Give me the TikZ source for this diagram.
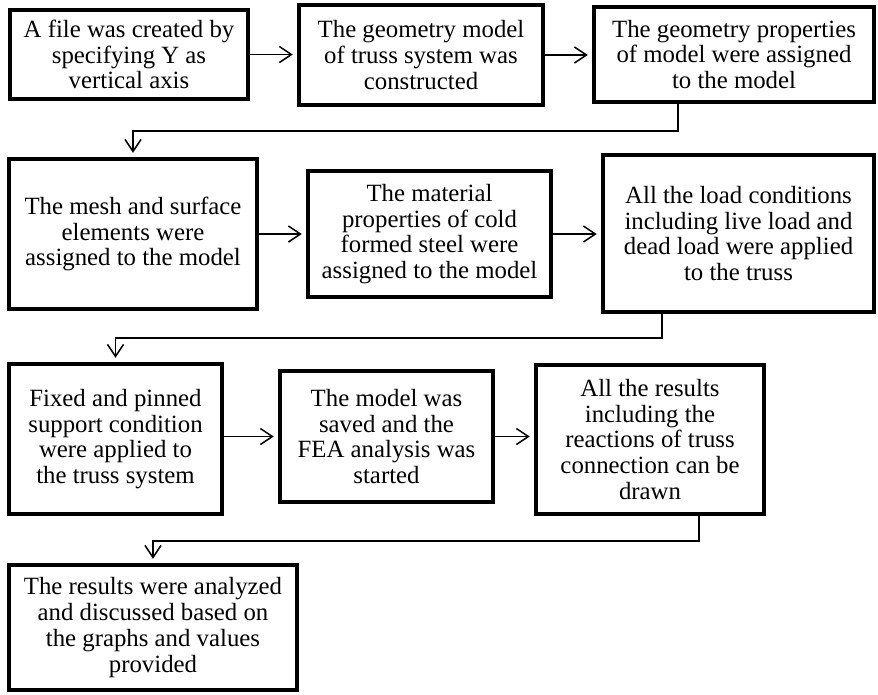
\documentclass[tikz,border=0pt]{standalone}
\usepackage{fontspec}
\setmainfont{Liberation Serif}
\usetikzlibrary{arrows.meta,calc}
\begin{document}
\begin{tikzpicture}[x=1pt,y=-1pt,
  stepbox/.style={draw, line width=4.5pt, align=center, inner sep=0pt,
    font=\fontsize{24.8}{25.7}\selectfont},
  conn/.style={line width=1.5pt, -{Straight Barb[length=12pt,width=16pt]}, shorten >=4pt}]
\fill[white] (0,0) rectangle (878,694);
\useasboundingbox (0,0) rectangle (878,694);

\node[stepbox, minimum width=238pt, minimum height=89pt] (b1) at (129,54.5)
  {A file was created by\\specifying Y as\\vertical axis};
\node[stepbox, minimum width=244pt, minimum height=100pt] (b2) at (421,55)
  {The geometry model\\of truss system was\\constructed};
\node[stepbox, minimum width=280pt, minimum height=95pt] (b3) at (734,54.5)
  {The geometry properties\\of model were assigned\\to the model};

\node[stepbox, minimum width=248pt, minimum height=150pt] (b4) at (133,234)
  {The mesh and surface\\elements were\\assigned to the model};
\node[stepbox, minimum width=243pt, minimum height=126pt] (b5) at (429.5,234)
  {The material\\properties of cold\\formed steel were\\assigned to the model};
\node[stepbox, minimum width=271pt, minimum height=157pt] (b6) at (738.5,233.5)
  {All the load conditions\\including live load and\\dead load were applied\\to the truss};

\node[stepbox, minimum width=213pt, minimum height=150pt] (b7) at (115.5,439)
  {Fixed and pinned\\support condition\\were applied to\\the truss system};
\node[stepbox, minimum width=213pt, minimum height=131pt] (b8) at (386.5,436.5)
  {The model was\\saved and the\\FEA analysis was\\started};
\node[stepbox, minimum width=228pt, minimum height=149pt] (b9) at (650,439.5)
  {All the results\\including the\\reactions of truss\\connection can be\\drawn};

\node[stepbox, minimum width=288pt, minimum height=125pt] (b10) at (153,627.5)
  {The results were analyzed\\and discussed based on\\the graphs and values\\provided};

\draw[conn] (b1.east) -- (b2.west |- b1.east);
\draw[conn] (b2.east) -- (b3.west |- b2.east);
\coordinate (k1) at (678,131);
\draw[conn] (k1 |- b3.south) -- (k1) -| (b4.north);
\draw[conn] (b4.east) -- (b5.west |- b4.east);
\draw[conn] (b5.east) -- (b6.west |- b5.east);
\coordinate (k2) at (662,338);
\draw[conn] (k2 |- b6.south) -- (k2) -| (b7.north);
\draw[conn] (b7.east |- b8.west) -- (b8.west);
\draw[conn] (b8.east) -- (b9.west |- b8.east);
\coordinate (k3) at (699,541);
\draw[conn] (k3 |- b9.south) -- (k3) -| (b10.north);
\end{tikzpicture}
\end{document}
